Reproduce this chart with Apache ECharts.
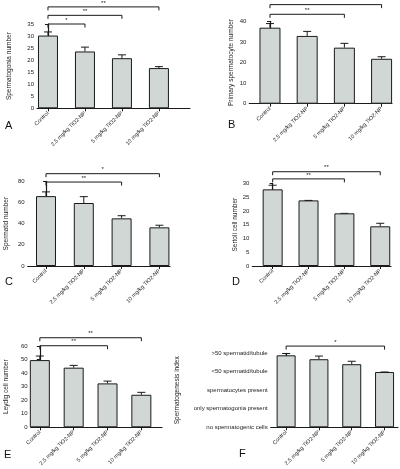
<!DOCTYPE html>
<html><head><meta charset="utf-8">
<script src="https://cdn.jsdelivr.net/npm/echarts@6/dist/echarts.min.js"></script>
<style>html,body{margin:0;padding:0;background:#fff}#c{width:400px;height:469px}</style>
</head><body><div id="c"></div>
<script>
const categories = ['Control', '2.5 mg/kg TiO2-NP', '5 mg/kg TiO2-NP', '10 mg/kg TiO2-NP'];

const spermatogonia = [30.2, 23.6, 20.8, 16.7];
const spermatogoniaErr = [1.5, 1.8, 1.4, 0.6];
const spermatogoniaSig = [[0, 1, 35, '*'], [0, 2, 38.6, '**'], [0, 3, 42.1, '**']];

const primarySpermatocyte = [36.9, 32.9, 27.2, 21.8];
const primarySpermatocyteErr = [2.0, 2.2, 2.1, 1.0];
const primarySpermatocyteSig = [[0, 2, 43.4, '**'], [0, 3, 48.1, '**']];

const spermatid = [66, 59.5, 45, 36.5];
const spermatidErr = [4, 6, 2.5, 2];
const spermatidSig = [[0, 2, 79.3, '**'], [0, 3, 87.2, '*']];

const sertoli = [27.8, 23.8, 19.1, 14.4];
const sertoliErr = [1.5, 0, 0, 1.1];
const sertoliSig = [[0, 2, 31.6, '**'], [0, 3, 34.2, '**']];

const leydig = [49.6, 44, 32.4, 24];
const leydigErr = [3, 1.7, 1.7, 1.8];
const leydigSig = [[0, 2, 60.2, '**'], [0, 3, 66.1, '**']];

const spermIndex = [3.89, 3.68, 3.41, 2.99];
const spermIndexErr = [0.1, 0.17, 0.16, 0];
const spermIndexSig = [[0, 3, 4.39, '*']];
const spermIndexTicks = ['no spermatogenic cells', 'only spermatogonia present', 'spermatocytes present', '<50 spermatid/tubule', '>50 spermatid/tubule'];

const panels = [
  {letter: 'A', name: 'Spermatogonia number', vals: spermatogonia, errs: spermatogoniaErr, sig: spermatogoniaSig, yMax: 35, yInt: 5,
   grid: {left: 37, top: 24, width: 153, height: 84.3}, xMin: -0.297, xMax: 3.84, bw: 20, gap: 24, lx: 5, ly: 120},
  {letter: 'B', name: 'Primary spermatocyte number', vals: primarySpermatocyte, errs: primarySpermatocyteErr, sig: primarySpermatocyteSig, yMax: 40, yInt: 10,
   grid: {left: 249.3, top: 21.3, width: 142.7, height: 82.4}, xMin: -0.556, xMax: 3.28, bw: 21, gap: 15, lx: 228, ly: 119},
  {letter: 'C', name: 'Spermatid number', vals: spermatid, errs: spermatidErr, sig: spermatidSig, yMax: 80, yInt: 20,
   grid: {left: 27.7, top: 181.3, width: 142.3, height: 84.7}, xMin: -0.484, xMax: 3.28, bw: 20, gap: 18, lx: 5, ly: 276},
  {letter: 'D', name: 'Sertoli cell number', vals: sertoli, errs: sertoliErr, sig: sertoliSig, yMax: 30, yInt: 5,
   grid: {left: 252.3, top: 183.3, width: 138.7, height: 82.7}, xMin: -0.568, xMax: 3.30, bw: 20, gap: 12, lx: 232, ly: 276},
  {letter: 'E', name: 'Leydig cell number', vals: leydig, errs: leydigErr, sig: leydigSig, yMax: 60, yInt: 10,
   grid: {left: 30.7, top: 346, width: 131.3, height: 81.3}, xMin: -0.27, xMax: 3.61, bw: 20, gap: 21, lx: 4, ly: 449},
  {letter: 'F', name: 'Spermatogenesis index', vals: spermIndex, errs: spermIndexErr, sig: spermIndexSig, yMax: 4, yInt: 1,
   grid: {left: 270.7, top: 353.3, width: 127.3, height: 74}, xMin: -0.47, xMax: 3.41, bw: 19, gap: 90, lx: 239, ly: 448, ticks: spermIndexTicks}
];

const FONT = 'Liberation Sans';
const INK = '#1a1a1a';
const grids = [], xAxes = [], yAxes = [], series = [], titles = [];

panels.forEach((p, k) => {
  grids.push(Object.assign({containLabel: false}, p.grid));
  xAxes.push({
    type: 'value', gridIndex: k, min: p.xMin, max: p.xMax,
    splitLine: {show: false},
    axisLine: {show: true, onZero: false, lineStyle: {color: INK, width: 1.2}},
    axisTick: {show: true, customValues: [0, 1, 2, 3], length: 3, lineStyle: {color: INK}},
    axisLabel: {show: true, customValues: [0, 1, 2, 3], rotate: 45, fontSize: 5.5, fontFamily: FONT, color: '#222', margin: 4,
      formatter: v => categories[Math.round(v)] || ''}
  });
  yAxes.push({
    type: 'value', gridIndex: k, min: 0, max: p.yMax, interval: p.yInt,
    splitLine: {show: false},
    axisLine: {show: true, lineStyle: {color: INK, width: 1.2}},
    axisTick: {show: true, length: 3, lineStyle: {color: INK}},
    axisLabel: {fontSize: 6, fontFamily: FONT, color: '#222', margin: 3,
      formatter: p.ticks ? (v => p.ticks[Math.round(v)] || '') : (v => String(v))},
    name: p.name, nameLocation: 'middle', nameRotate: 90, nameGap: p.gap,
    nameTextStyle: {fontSize: 6.5, fontFamily: FONT, color: '#222'}
  });
  series.push({
    type: 'bar', xAxisIndex: k, yAxisIndex: k, barWidth: p.bw,
    data: p.vals.map((v, i) => [i, v]),
    itemStyle: {color: '#d1d7d4', borderColor: INK, borderWidth: 1},
    silent: true
  });
  series.push({
    type: 'custom', xAxisIndex: k, yAxisIndex: k, clip: false, silent: true,
    data: p.vals.map((v, i) => [i, v, p.errs[i]]),
    encode: {x: 0, y: 1},
    renderItem: (params, api) => {
      const i = api.value(0), v = api.value(1), e = api.value(2);
      const a = api.coord([i, v]), b = api.coord([i, v + e]);
      return {type: 'group', children: [
        {type: 'line', shape: {x1: a[0], y1: a[1], x2: b[0], y2: b[1]}, style: {stroke: INK, lineWidth: 1}},
        {type: 'line', shape: {x1: b[0] - 4, y1: b[1], x2: b[0] + 4, y2: b[1]}, style: {stroke: INK, lineWidth: 1}}
      ]};
    }
  });
  series.push({
    type: 'custom', xAxisIndex: k, yAxisIndex: k, clip: false, silent: true,
    data: p.sig,
    encode: {x: [0, 1], y: 2},
    renderItem: (params, api) => {
      const s = p.sig[params.dataIndex];
      const a = api.coord([s[0], s[2]]), b = api.coord([s[1], s[2]]);
      return {type: 'group', children: [
        {type: 'polyline', shape: {points: [[a[0], a[1] + 3.5], [a[0], a[1]], [b[0], b[1]], [b[0], b[1] + 3.5]]},
          style: {stroke: INK, lineWidth: 1, fill: null}},
        {type: 'text', x: (a[0] + b[0]) / 2, y: a[1] - 1,
          style: {text: s[3], fontSize: 6, fontFamily: FONT, fill: '#222', align: 'center', verticalAlign: 'bottom'}}
      ]};
    }
  });
  titles.push({text: p.letter, left: p.lx, top: p.ly, padding: 0, textStyle: {fontSize: 11, fontWeight: 'normal', fontFamily: FONT, color: '#111'}});
});

const chart = echarts.init(document.getElementById('c'), null, {renderer: 'canvas'});
chart.setOption({
  animation: false,
  backgroundColor: '#fff',
  title: titles,
  grid: grids,
  xAxis: xAxes,
  yAxis: yAxes,
  series: series
});
</script>
</body></html>
